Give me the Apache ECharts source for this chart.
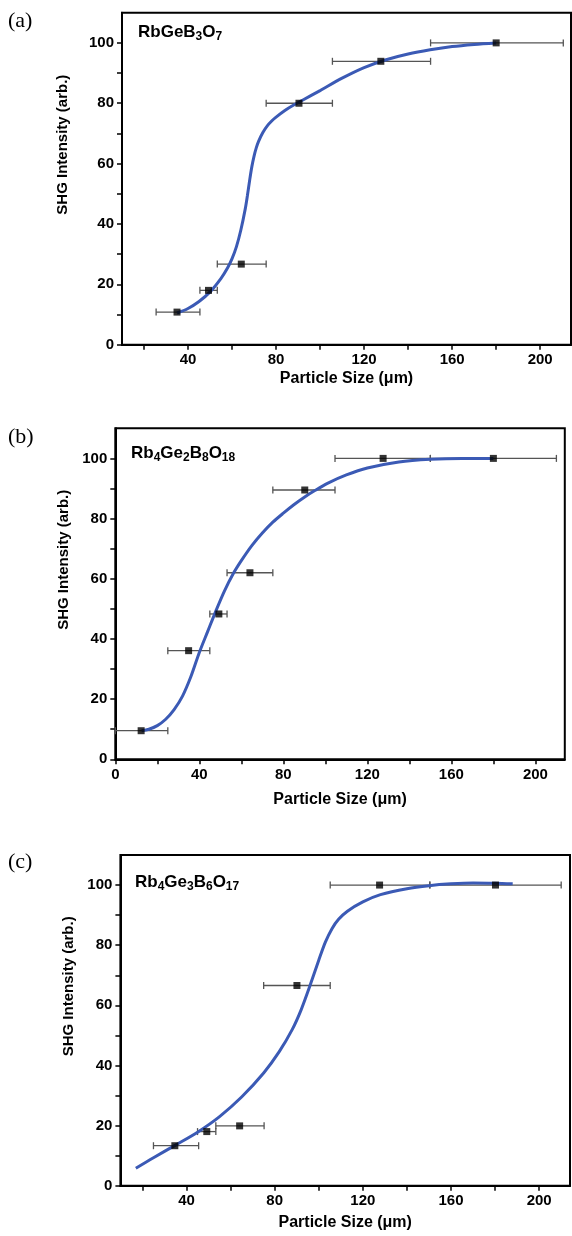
<!DOCTYPE html>
<html><head><meta charset="utf-8">
<script src="https://cdn.jsdelivr.net/npm/echarts@6/dist/echarts.min.js"></script>
<style>html,body{margin:0;padding:0;background:#fff}#c{width:572px;height:1236px}</style>
</head><body><div id="c"></div>
<script>
// ---------- data ----------
const panelLetters = ['(a)', '(b)', '(c)'];
const compoundNames = [
  '{m|RbGeB}{s|3}{m|O}{s|7}',
  '{m|Rb}{s|4}{m|Ge}{s|2}{m|B}{s|8}{m|O}{s|18}',
  '{m|Rb}{s|4}{m|Ge}{s|3}{m|B}{s|6}{m|O}{s|17}'
];
const xName = 'Particle Size (μm)';
const yName = 'SHG Intensity (arb.)';

const xLabelsAC = [40, 80, 120, 160, 200];
const xLabelsB = [0, 40, 80, 120, 160, 200];
const xTicksAC = [20, 40, 60, 80, 100, 120, 140, 160, 180, 200];
const xTicksB = [0, 20, 40, 60, 80, 100, 120, 140, 160, 180, 200];
const yLabels = [0, 20, 40, 60, 80, 100];
const yTicks = [0, 10, 20, 30, 40, 50, 60, 70, 80, 90, 100];

// (a) RbGeB3O7
const sizeA = [35, 49.3, 64.2, 90.4, 127.6, 180];
const intensityA = [10.8, 18, 26.7, 80, 93.9, 100];
const errLowA = [25.5, 45.4, 53.3, 75.5, 105.6, 150.2];
const errHighA = [45.4, 53.3, 75.5, 105.6, 150.2, 210.5];
const fitXA = [35, 40, 45, 50, 55, 58, 60, 62, 64, 66, 67, 68, 69, 70, 71, 72, 74, 76, 78, 80, 84, 88, 92, 100, 110, 120, 130, 140, 150, 160, 170, 180];
const fitYA = [10.5, 12, 14.3, 17.5, 22, 25.5, 28.5, 32.5, 38, 45, 49.5, 54.5, 59, 62.5, 65.2, 67.3, 70.3, 72.5, 74.1, 75.4, 77.6, 79.4, 81, 84.2, 88.3, 91.8, 94.4, 96.3, 97.7, 98.8, 99.5, 100];

// (b) Rb4Ge2B8O18
const sizeB = [12.3, 34.9, 49.3, 64.1, 90.2, 127.5, 180];
const intensityB = [9.5, 36.1, 48.3, 62, 89.5, 100, 100];
const errLowB = [0, 25, 45, 53.2, 75, 104.6, 150];
const errHighB = [25, 45, 53.2, 75, 104.6, 150, 210];
const fitXB = [12.5, 16, 20, 24, 28, 32, 36, 40, 44, 48, 52, 56, 60, 65, 70, 75, 80, 85, 90, 95, 101, 110, 120, 135, 150, 165, 180];
const fitYB = [9.5, 10, 11.2, 13.3, 16.5, 21, 27.5, 35.5, 42.5, 49.5, 56, 61.5, 66, 71, 75.2, 78.8, 81.8, 84.6, 87.1, 89.3, 91.7, 94.5, 96.8, 98.8, 99.7, 100, 100];

// (c) Rb4Ge3B6O17
const sizeC = [34.7, 49.2, 64.1, 90.1, 127.6, 180.2];
const intensityC = [13.3, 18, 19.9, 66.6, 100, 100];
const errLowC = [25, 45, 53.3, 75, 105.2, 150.4];
const errHighC = [45.5, 53.3, 75.2, 105.2, 150.4, 210];
const fitXC = [17, 25, 35, 45, 55, 65, 75, 82, 88, 92, 96, 100, 103, 106, 109, 113, 120, 128, 140, 150, 160, 170, 180, 188];
const fitYC = [5.8, 9.3, 13.5, 17.8, 23, 29.5, 37.5, 44.5, 52, 58.5, 66.5, 75, 81, 85.5, 88.6, 91.3, 94.4, 96.8, 98.8, 99.8, 100.4, 100.7, 100.6, 100.4];

// ---------- layout / style ----------
const FONT = '"Liberation Sans", Arial, sans-serif';
const SERIF = '"Liberation Serif", "Times New Roman", serif';
const BLUE = '#3b5ab5';
const panels = [
  {grid: {left: 122, top: 12.7, width: 449, height: 332}, xmin: 10, xmax: 214,
   xl: xLabelsAC, xt: xTicksAC, yGap: 52, xGap: 26,
   size: sizeA, inten: intensityA, lo: errLowA, hi: errHighA, fx: fitXA, fy: fitYA,
   letterPos: [8, 10], compPos: [138, 21]},
  {grid: {left: 115.3, top: 428.3, width: 449.5, height: 331}, xmin: 0, xmax: 214,
   xl: xLabelsB, xt: xTicksB, yGap: 37, xGap: 32,
   size: sizeB, inten: intensityB, lo: errLowB, hi: errHighB, fx: fitXB, fy: fitYB,
   letterPos: [8, 426], compPos: [131, 442]},
  {grid: {left: 120.4, top: 855, width: 449.6, height: 330.7}, xmin: 10, xmax: 214,
   xl: xLabelsAC, xt: xTicksAC, yGap: 43, xGap: 29,
   size: sizeC, inten: intensityC, lo: errLowC, hi: errHighC, fx: fitXC, fy: fitYC,
   letterPos: [8, 851], compPos: [135, 871]}
];

function renderErr(params, api) {
  const lo = api.coord([api.value(0), api.value(2)]);
  const hi = api.coord([api.value(1), api.value(2)]);
  const h = 3.5;
  const style = {stroke: '#555', lineWidth: 1.3, fill: null};
  return {type: 'group', children: [
    {type: 'line', shape: {x1: lo[0], y1: lo[1], x2: hi[0], y2: hi[1]}, style: style},
    {type: 'line', shape: {x1: lo[0], y1: lo[1] - h, x2: lo[0], y2: lo[1] + h}, style: style},
    {type: 'line', shape: {x1: hi[0], y1: hi[1] - h, x2: hi[0], y2: hi[1] + h}, style: style}
  ]};
}

const option = {
  animation: false,
  backgroundColor: '#fff',
  title: [], grid: [], xAxis: [], yAxis: [], series: []
};

panels.forEach(function (p, i) {
  option.grid.push(Object.assign({show: true, borderColor: '#000', borderWidth: 2, backgroundColor: 'transparent'}, p.grid));
  option.title.push({text: panelLetters[i], left: p.letterPos[0], top: p.letterPos[1], padding: 0,
    textStyle: {fontFamily: SERIF, fontSize: 22, fontWeight: 'normal', color: '#000'}});
  option.title.push({text: compoundNames[i], left: p.compPos[0], top: p.compPos[1], padding: 0,
    textStyle: {rich: {
      m: {fontFamily: FONT, fontSize: 17, fontWeight: 'bold', color: '#000', lineHeight: 22},
      s: {fontFamily: FONT, fontSize: 12, fontWeight: 'bold', color: '#000', lineHeight: 12, verticalAlign: 'bottom'}
    }}});
  option.xAxis.push({
    type: 'value', gridIndex: i, min: p.xmin, max: p.xmax,
    name: xName, nameLocation: 'middle', nameGap: p.xGap,
    nameTextStyle: {fontFamily: FONT, fontSize: 16, fontWeight: 'bold', color: '#000'},
    axisLine: {show: true, onZero: false, lineStyle: {color: '#000', width: 2}},
    axisTick: {show: true, inside: false, length: 5, customValues: p.xt, lineStyle: {color: '#000', width: 1.5}},
    axisLabel: {customValues: p.xl, color: '#000', fontFamily: FONT, fontSize: 15, fontWeight: 'bold', margin: 8},
    splitLine: {show: false}
  });
  option.yAxis.push({
    type: 'value', gridIndex: i, min: 0, max: 110,
    name: yName, nameLocation: 'middle', nameGap: p.yGap,
    nameTextStyle: {fontFamily: FONT, fontSize: 15, fontWeight: 'bold', color: '#000', padding: [0, 0, 0, 68]},
    axisLine: {show: true, onZero: false, lineStyle: {color: '#000', width: 2}},
    axisTick: {show: true, inside: false, length: 5, customValues: yTicks, lineStyle: {color: '#000', width: 1.5}},
    axisLabel: {customValues: yLabels, color: '#000', fontFamily: FONT, fontSize: 15, fontWeight: 'bold', margin: 8},
    splitLine: {show: false}
  });
  option.series.push({
    type: 'custom', xAxisIndex: i, yAxisIndex: i, renderItem: renderErr, z: 1,
    encode: {x: [0, 1], y: 2},
    data: p.lo.map(function (l, k) { return [l, p.hi[k], p.inten[k]]; })
  });
  option.series.push({
    type: 'line', xAxisIndex: i, yAxisIndex: i, smooth: 0.3, symbol: 'none', z: 2,
    lineStyle: {color: BLUE, width: 3},
    data: p.fx.map(function (x, k) { return [x, p.fy[k]]; })
  });
  option.series.push({
    type: 'scatter', xAxisIndex: i, yAxisIndex: i, symbol: 'rect', symbolSize: 7, z: 3,
    itemStyle: {color: '#000'},
    data: p.size.map(function (x, k) { return [x, p.inten[k]]; })
  });
});

const chart = echarts.init(document.getElementById('c'), null, {renderer: 'canvas'});
chart.setOption(option);
</script>
</body></html>
